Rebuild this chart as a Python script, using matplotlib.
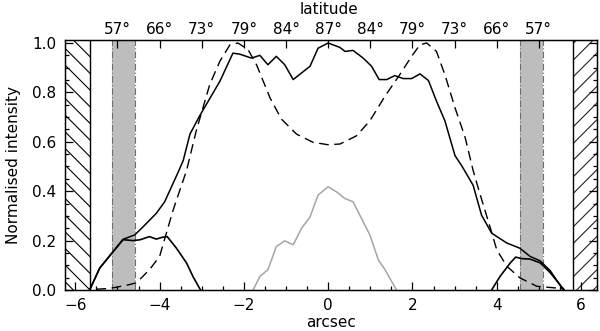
import matplotlib
matplotlib.use("Agg")
import matplotlib.pyplot as plt
from matplotlib.ticker import MultipleLocator
import numpy as np

plt.rcParams['font.family'] = ['DejaVu Sans']
plt.rcParams['hatch.linewidth'] = 0.8

# Main solid profile (arcsec, normalised intensity)
main_x = [-5.66, -5.42, -4.87, -4.59, -4.39, -4.08, -3.88, -3.72, -3.56, -3.44, -3.28, -3.05,
          -2.57, -2.26, -2.10, -1.82, -1.62, -1.43, -1.23, -1.03, -0.83, -0.43, -0.24, 0.0,
          0.28, 0.40, 0.59, 0.83, 1.03, 1.21, 1.39, 1.58, 1.78, 1.98, 2.18, 2.38, 2.57,
          2.77, 3.01, 3.17, 3.44, 3.64, 3.88, 4.24, 4.55, 4.79, 5.03, 5.27, 5.58]
main_y = [0.0, 0.089, 0.205, 0.223, 0.256, 0.31, 0.357, 0.417, 0.477, 0.524, 0.631, 0.705,
          0.845, 0.959, 0.955, 0.939, 0.95, 0.912, 0.946, 0.912, 0.852, 0.906, 0.979, 1.0,
          0.982, 0.966, 0.97, 0.939, 0.906, 0.852, 0.852, 0.868, 0.856, 0.856, 0.875, 0.848, 0.765,
          0.685, 0.544, 0.503, 0.424, 0.303, 0.23, 0.19, 0.169, 0.136, 0.118, 0.078, 0.0]

# Left limb bump
left_x = [-5.66, -5.42, -4.87, -4.83, -4.63, -4.47, -4.24, -4.08, -3.92, -3.82, -3.60, -3.36, -3.21, -3.03]
left_y = [0.0, 0.089, 0.203, 0.203, 0.2, 0.203, 0.216, 0.206, 0.214, 0.216, 0.169, 0.109, 0.055, 0.0]

# Right limb bump
right_x = [3.88, 4.08, 4.32, 4.45, 4.59, 4.79, 5.03, 5.27, 5.60]
right_y = [0.0, 0.055, 0.109, 0.133, 0.127, 0.125, 0.110, 0.070, 0.0]

# Grey central profile
grey_x = [-1.78, -1.62, -1.43, -1.23, -1.03, -0.83, -0.63, -0.43, -0.24, 0.0, 0.2, 0.40,
          0.59, 0.79, 0.99, 1.19, 1.35, 1.62]
grey_y = [0.0, 0.055, 0.082, 0.176, 0.199, 0.183, 0.25, 0.296, 0.384, 0.418, 0.397, 0.37,
          0.357, 0.29, 0.223, 0.122, 0.082, 0.0]

# Dashed model profile
dash_x = [-5.5, -5.2, -5.03, -4.71, -4.55, -4.24, -4.0, -3.84, -3.68, -3.52, -3.36, -3.13,
          -2.81, -2.57, -2.33, -2.14, -1.90, -1.70, -1.38, -1.11, -0.75, -0.36, 0.0, 0.28,
          0.67, 0.99, 1.35, 1.70, 1.98, 2.18, 2.34, 2.57, 2.77, 3.01, 3.25, 3.44, 3.60,
          3.84, 4.0, 4.24, 4.55, 4.95, 5.34, 5.6]
dash_y = [0.003, 0.006, 0.011, 0.022, 0.029, 0.082, 0.136, 0.23, 0.323, 0.404, 0.484, 0.645,
          0.832, 0.926, 0.993, 1.0, 0.973, 0.912, 0.778, 0.692, 0.631, 0.598, 0.588, 0.591,
          0.624, 0.685, 0.785, 0.872, 0.946, 0.993, 1.0, 0.966, 0.872, 0.738, 0.618, 0.484, 0.39,
          0.256, 0.163, 0.096, 0.049, 0.015, 0.009, 0.005]

# Regions
hatch_left = (-6.25, -5.66)
hatch_right = (5.81, 6.38)
band_left = (-5.14, -4.59)
band_right = (4.55, 5.10)

# Top axis
top_ticks = [-5, -4, -3, -2, -1, 0, 1, 2, 3, 4, 5]
top_labels = ['57°', '66°', '73°', '79°', '84°', '87°', '84°', '79°', '73°', '66°', '57°']

FS = 11

fig = plt.figure(figsize=(6.0, 3.31), dpi=100)
ax = fig.add_axes([0.108, 0.124, 0.887, 0.755])

for a, b in [band_left, band_right]:
    ax.axvspan(a, b, color='#bdbdbd', lw=0, zorder=1)
    for v in (a, b):
        ax.axvline(v, color='#6e6e6e', lw=0.8, ls=(0, (6, 2, 1, 2)), zorder=2)

ax.axvspan(*hatch_left, facecolor='white', edgecolor='black', hatch='\\\\', lw=0, zorder=1)
ax.axvspan(*hatch_right, facecolor='white', edgecolor='#222222', hatch='//', lw=0, zorder=1)
ax.axvline(hatch_left[1], color='black', lw=1.0, zorder=3)
ax.axvline(hatch_right[0], color='black', lw=1.0, zorder=3)

ax.plot(grey_x, grey_y, color='#a5a5a5', lw=1.1, zorder=4)
ax.plot(dash_x, dash_y, color='black', lw=1.0, ls=(0, (7, 4)), zorder=4)
ax.plot(main_x, main_y, color='black', lw=1.1, zorder=5)
ax.plot(left_x, left_y, color='black', lw=1.2, zorder=5)
ax.plot(right_x, right_y, color='black', lw=1.2, zorder=5)

ax.set_xlim(-6.25, 6.38)
ax.set_ylim(0, 1.012)
ax.xaxis.set_major_locator(MultipleLocator(2))
ax.xaxis.set_minor_locator(MultipleLocator(0.5))
ax.yaxis.set_major_locator(MultipleLocator(0.2))
ax.yaxis.set_minor_locator(MultipleLocator(0.05))
ax.set_yticklabels([f'{v:.1f}' for v in ax.get_yticks()])
ax.set_xticklabels([f'{int(v)}'.replace('-', '\u2212') for v in ax.get_xticks()])
ax.tick_params(which='both', direction='in', top=False, right=True, labelsize=FS, color='black')
ax.tick_params(axis='y', which='major', pad=6)
ax.tick_params(axis='x', which='major', pad=6)
ax.tick_params(which='major', length=6, width=0.9)
ax.tick_params(which='minor', length=3, width=0.9)
for s in ax.spines.values():
    s.set_linewidth(1.0)
    s.set_zorder(6)

ax.set_xlabel('arcsec', fontsize=FS, labelpad=1)
ax.set_ylabel('Normalised intensity', fontsize=FS, labelpad=8)

ax2 = ax.twiny()
ax2.set_xlim(ax.get_xlim())
ax2.set_xticks(top_ticks)
ax2.set_xticklabels(top_labels)
ax2.tick_params(direction='in', length=6, width=0.9, labelsize=FS, pad=2)
fig.text(329 / 600, 1 - 9.5 / 331, 'latitude', fontsize=FS, ha='center', va='center')

fig.savefig('out.png', dpi=100)
